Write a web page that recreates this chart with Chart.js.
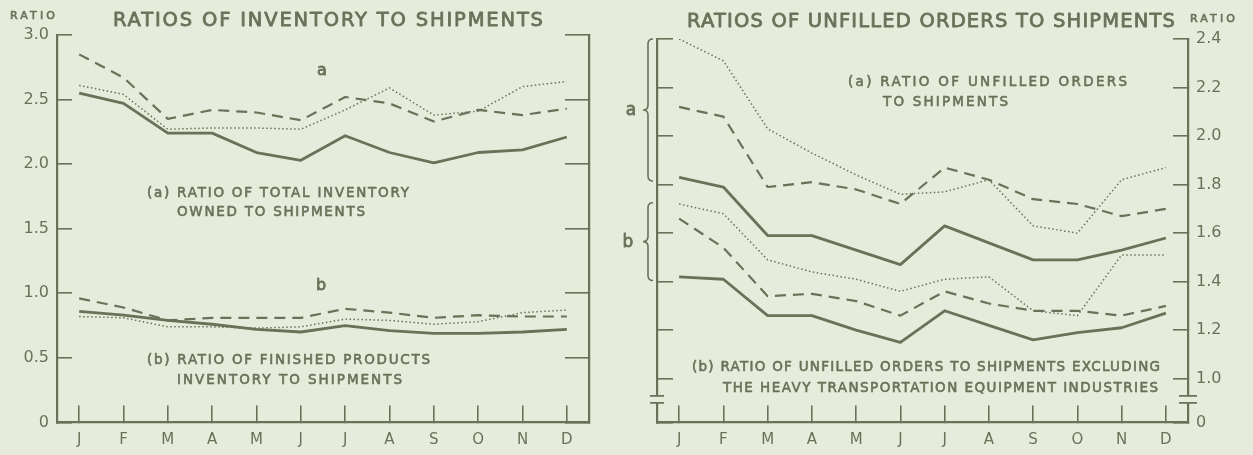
<!DOCTYPE html>
<html>
<head>
<meta charset="utf-8">
<script src="https://cdn.jsdelivr.net/npm/chart.js@4.4.1/dist/chart.umd.min.js"></script>
<style>
    html, body { margin: 0; padding: 0; background: #e7ebdb; }
    #wrap { position: relative; width: 1253px; height: 455px; overflow: hidden; }
    #wrap canvas { position: absolute; top: 0; }
    #invChart { left: 0; }
    #ordChart { left: 620px; }
</style>
</head>
<body>
<div id="wrap">
    <canvas id="invChart" width="620" height="455" style="width:620px;height:455px"></canvas>
    <canvas id="ordChart" width="633" height="455" style="width:633px;height:455px"></canvas>
</div>
<script>
const months = ['J', 'F', 'M', 'A', 'M', 'J', 'J', 'A', 'S', 'O', 'N', 'D'];

// left panel: inventory / shipments
const invTicks = [0, 0.5, 1.0, 1.5, 2.0, 2.5, 3.0];
const invTotalSolid = [2.55, 2.47, 2.24, 2.24, 2.09, 2.03, 2.22, 2.09, 2.01, 2.09, 2.11, 2.21];
const invTotalDashed = [2.85, 2.67, 2.35, 2.42, 2.40, 2.34, 2.52, 2.47, 2.33, 2.42, 2.38, 2.43];
const invTotalDotted = [2.61, 2.54, 2.27, 2.28, 2.28, 2.27, 2.42, 2.59, 2.38, 2.41, 2.60, 2.64];
const invFinishedSolid = [0.86, 0.83, 0.79, 0.76, 0.72, 0.70, 0.75, 0.71, 0.69, 0.69, 0.70, 0.72];
const invFinishedDashed = [0.96, 0.89, 0.79, 0.81, 0.81, 0.81, 0.88, 0.85, 0.81, 0.83, 0.82, 0.82];
const invFinishedDotted = [0.82, 0.81, 0.74, 0.74, 0.73, 0.74, 0.80, 0.79, 0.76, 0.78, 0.85, 0.87];

// right panel: unfilled orders / shipments (axis broken below 1.0)
const ordBreakBase = 0.82; // value sitting on the x axis, labelled 0
const ordTicks = [ordBreakBase, 1.0, 1.2, 1.4, 1.6, 1.8, 2.0, 2.2, 2.4];
const ordAllSolid = [1.83, 1.79, 1.59, 1.59, 1.53, 1.47, 1.63, 1.56, 1.49, 1.49, 1.53, 1.58];
const ordAllDashed = [2.12, 2.08, 1.79, 1.81, 1.78, 1.72, 1.87, 1.82, 1.74, 1.72, 1.67, 1.70];
const ordAllDotted = [2.40, 2.31, 2.03, 1.93, 1.84, 1.76, 1.77, 1.82, 1.63, 1.60, 1.82, 1.87];
const ordExclSolid = [1.42, 1.41, 1.26, 1.26, 1.20, 1.15, 1.28, 1.22, 1.16, 1.19, 1.21, 1.27];
const ordExclDashed = [1.66, 1.54, 1.34, 1.35, 1.32, 1.26, 1.36, 1.31, 1.28, 1.28, 1.26, 1.30];
const ordExclDotted = [1.72, 1.68, 1.49, 1.44, 1.41, 1.36, 1.41, 1.42, 1.28, 1.26, 1.51, 1.51];

const ink = '#687259';
const paper = '#e7ebdb';
const fontFamily = '"DejaVu Sans", "Liberation Sans", sans-serif';

const lineStyles = {
    solid: { borderWidth: 2.8, borderDash: [] },
    dashed: { borderWidth: 2.2, borderDash: [11, 7] },
    dotted: { borderWidth: 1.5, borderDash: [1.5, 2.5] },
};

function series(label, data, style) {
    return {
        label,
        data,
        borderColor: ink,
        borderWidth: lineStyles[style].borderWidth,
        borderDash: lineStyles[style].borderDash,
        borderCapStyle: 'butt',
        borderJoinStyle: 'round',
        pointRadius: 0,
        tension: 0,
        fill: false,
    };
}

// lettering stretched to the width it has in the drawing, with a slightly heavier stroke
function spacedText(ctx, t) {
    const [text, x1, x2, y, size] = t;
    ctx.save();
    ctx.font = `${size}px ${fontFamily}`;
    ctx.fillStyle = ink;
    ctx.strokeStyle = ink;
    ctx.lineWidth = size > 15 ? 0.8 : 0.6;
    ctx.lineJoin = 'round';
    ctx.textBaseline = 'middle';
    ctx.letterSpacing = '0px';
    let x = x1;
    if (x2 == null) {
        ctx.textAlign = 'center';
    } else {
        const w = ctx.measureText(text).width;
        const sp = text.length > 1 ? (x2 - x1 - w) / (text.length - 1) : 0;
        ctx.letterSpacing = `${Math.max(sp, -1.5)}px`;
        ctx.textAlign = 'left';
    }
    ctx.fillText(text, x, y);
    ctx.strokeText(text, x, y);
    ctx.restore();
}

function brace(ctx, x, yTop, yBot, w) {
    const ym = (yTop + yBot) / 2;
    ctx.beginPath();
    ctx.moveTo(x + w, yTop);
    ctx.quadraticCurveTo(x, yTop, x, yTop + w);
    ctx.lineTo(x, ym - w);
    ctx.quadraticCurveTo(x, ym, x - w, ym);
    ctx.quadraticCurveTo(x, ym, x, ym + w);
    ctx.lineTo(x, yBot - w);
    ctx.quadraticCurveTo(x, yBot, x + w, yBot);
    ctx.stroke();
}

function axisBreak(ctx, x, yc, half) {
    ctx.fillStyle = paper;
    ctx.fillRect(x - 2, yc - 3, 4, 6);
    ctx.beginPath();
    ctx.moveTo(x - half, yc - 3.5);
    ctx.lineTo(x + half, yc - 3.5);
    ctx.moveTo(x - half, yc + 3.5);
    ctx.lineTo(x + half, yc + 3.5);
    ctx.stroke();
}

function xScale(height) {
    return {
        type: 'category',
        offset: true,
        grid: { drawOnChartArea: false, drawTicks: true, tickLength: -17, color: ink, lineWidth: 1.6, offset: false },
        border: { color: ink, width: 2.2 },
        ticks: { color: ink, font: { family: fontFamily, size: 15 }, padding: 26, autoSkip: false, maxRotation: 0 },
        afterFit: (s) => { s.height = height; },
    };
}

function yScale(position, min, max, tickValues, opts) {
    return {
        type: 'linear',
        position,
        min,
        max,
        afterBuildTicks: (s) => { s.ticks = tickValues.map((value) => ({ value })); },
        grid: { drawOnChartArea: false, drawTicks: true, tickLength: -opts.tick, color: ink, lineWidth: 1.6 },
        border: { color: ink, width: 2.2 },
        ticks: {
            display: opts.labels,
            color: ink,
            font: { family: fontFamily, size: 16 },
            padding: opts.tick + 8,
            callback: opts.format,
        },
        afterFit: (s) => { s.width = opts.width; },
    };
}

// ---------- left panel ----------
const invNotes = [
    ['RATIO', 10, 55, 16, 11],
    ['RATIOS OF INVENTORY TO SHIPMENTS', 113, 543, 21, 19.5],
    ['a', 322, null, 71, 16],
    ['(a) RATIO OF TOTAL INVENTORY', 147, 409, 193, 13.5],
    ['OWNED TO SHIPMENTS', 177, 365, 212, 13.5],
    ['b', 321, null, 286, 16],
    ['(b) RATIO OF FINISHED PRODUCTS', 147, 430, 360, 13.5],
    ['INVENTORY TO SHIPMENTS', 177, 402, 380, 13.5],
];

new Chart(document.getElementById('invChart'), {
    type: 'line',
    data: {
        labels: months,
        datasets: [
            series('Total inventory (solid)', invTotalSolid, 'solid'),
            series('Total inventory (dashed)', invTotalDashed, 'dashed'),
            series('Total inventory (dotted)', invTotalDotted, 'dotted'),
            series('Finished products (solid)', invFinishedSolid, 'solid'),
            series('Finished products (dashed)', invFinishedDashed, 'dashed'),
            series('Finished products (dotted)', invFinishedDotted, 'dotted'),
        ],
    },
    options: {
        responsive: false,
        animation: false,
        layout: { padding: { top: 35, left: 0, right: 0, bottom: 0 } },
        plugins: { legend: { display: false }, tooltip: { enabled: false } },
        scales: {
            x: xScale(31),
            y: yScale('left', 0, 3, invTicks, {
                tick: 15, labels: true, width: 57,
                format: (v) => (v === 0 ? '0' : v.toFixed(1)),
            }),
            y2: yScale('right', 0, 3, invTicks, { tick: 24, labels: false, width: 31 }),
        },
    },
    plugins: [{
        id: 'invNotes',
        afterDraw(chart) {
            invNotes.forEach((t) => spacedText(chart.ctx, t));
        },
    }],
});

// ---------- right panel (canvas starts at x = 620) ----------
const ordNotes = [
    ['RATIOS OF UNFILLED ORDERS TO SHIPMENTS', 67, 555, 22, 19.5],
    ['RATIO', 570, 615, 19, 11],
    ['(a) RATIO OF UNFILLED ORDERS', 228, 507, 82, 13.5],
    ['TO SHIPMENTS', 263, 388, 102, 13.5],
    ['a', 11, null, 111, 17],
    ['b', 8, null, 243, 17],
    ['(b) RATIO OF UNFILLED ORDERS TO SHIPMENTS EXCLUDING', 72, 540, 367, 13.5],
    ['THE HEAVY TRANSPORTATION EQUIPMENT INDUSTRIES', 103, 538, 388, 13.5],
];
const ordBraces = [[2.4, 1.815], [1.725, 1.405]];

new Chart(document.getElementById('ordChart'), {
    type: 'line',
    data: {
        labels: months,
        datasets: [
            series('All industries (solid)', ordAllSolid, 'solid'),
            series('All industries (dashed)', ordAllDashed, 'dashed'),
            series('All industries (dotted)', ordAllDotted, 'dotted'),
            series('Excl. heavy transportation (solid)', ordExclSolid, 'solid'),
            series('Excl. heavy transportation (dashed)', ordExclDashed, 'dashed'),
            series('Excl. heavy transportation (dotted)', ordExclDotted, 'dotted'),
        ],
    },
    options: {
        responsive: false,
        animation: false,
        layout: { padding: { top: 39, left: 0, right: 0, bottom: 0 } },
        plugins: { legend: { display: false }, tooltip: { enabled: false } },
        scales: {
            x: xScale(28),
            yL: yScale('left', ordBreakBase, 2.4, ordTicks, { tick: 16, labels: false, width: 37 }),
            y: yScale('right', ordBreakBase, 2.4, ordTicks, {
                tick: 15, labels: true, width: 65,
                format: (v) => (v < 0.9 ? '0' : v.toFixed(1)),
            }),
        },
    },
    plugins: [{
        id: 'ordNotes',
        afterDraw(chart) {
            const ctx = chart.ctx;
            const y = chart.scales.y;
            const area = chart.chartArea;
            ordNotes.forEach((t) => spacedText(ctx, t));
            ctx.save();
            ctx.strokeStyle = ink;
            ctx.lineWidth = 1.6;
            ordBraces.forEach(([top, bot]) => {
                brace(ctx, area.left - 9, y.getPixelForValue(top), y.getPixelForValue(bot), 5);
            });
            const yc = y.getPixelForValue(0.915);
            axisBreak(ctx, area.left, yc, 7);
            axisBreak(ctx, area.right, yc, 9);
            ctx.restore();
        },
    }],
});
</script>
</body>
</html>
